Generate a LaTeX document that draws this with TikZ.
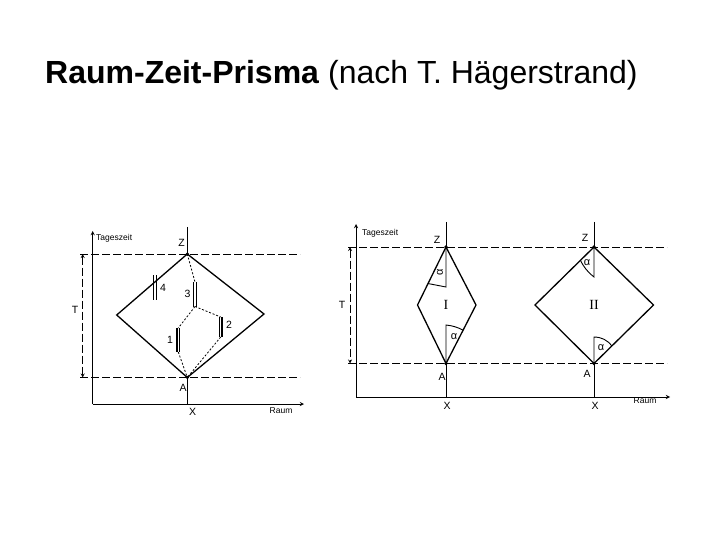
\documentclass[tikz,border=0pt]{standalone}
\usepackage{fontspec}
\setmainfont{Liberation Sans}
\newfontfamily\romfont{Liberation Serif}
\usetikzlibrary{arrows,calc}

\begin{document}
\begin{tikzpicture}[x=1pt,y=-1pt,>=stealth,
  axis/.style={line width=0.9pt},
  prism/.style={line width=1.3pt},
  guide/.style={line width=0.8pt,dash pattern=on 8pt off 3pt},
  track/.style={line width=0.8pt,dash pattern=on 2pt off 1.8pt},
  bar/.style={line width=1.3pt},
  lbl/.style={font=\fontsize{10.5}{10.5}\selectfont,inner sep=1pt},
  angle/.style={font=\fontsize{11}{11}\selectfont,inner sep=0.5pt},
  small/.style={font=\fontsize{8.5}{8.5}\selectfont,inner sep=1pt}]
\useasboundingbox (0,0) rectangle (720,540);
\node [anchor=base west,inner sep=0pt,font=\fontsize{32}{32}\selectfont] (title) at (45,84)
  {\textbf{Raum-Zeit-Prisma} (nach T. Hägerstrand)};
%
% left diagram: axes
\coordinate (O1) at (92.7,404);
\draw [axis,->] (O1) -- (92.7,231) coordinate (Y1);
\draw [axis,->] (O1) -- (304,404) coordinate (X1);
\node [small,anchor=west] (tz1) at (95,238) {Tageszeit};
\node [small] (raum1) at (281,411) {Raum};
%
\coordinate (Z1) at (187.3,254);
\coordinate (A1) at (187.3,377.5);
\coordinate (L1) at (116.7,315);
\coordinate (R1) at (264,314);
\draw [guide] (80,254) -- (300,254);
\draw [guide] (80,377.5) -- (300,377.5);
\draw [guide,<->] (82.7,254) -- (82.7,377.5);
\node [lbl] (T1) at (75,310) {T};
\draw [axis] (187.3,227) -- (Z1);
\draw [axis] (A1) -- (187.3,404);
\draw [prism] (Z1) -- (R1) -- (A1) -- (L1) -- cycle;
\fill (Z1) circle [radius=1.8];
\fill (A1) circle [radius=1.8];
\node [lbl] (z1) at (181.5,243) {Z};
\node [lbl] (a1) at (183,387.5) {A};
\node [lbl] (x1) at (192.7,412) {X};
%
% stations
\foreach \n/\x/\ya/\yb in {4/155/275/300, 3/195/282/306.5, 1/178.3/328/352, 2/220.7/317/337}{
  \coordinate (s\n-t) at (\x,\ya);
  \coordinate (s\n-b) at (\x,\yb);
  \draw [bar] (\x-1.4,\ya) -- (\x-1.4,\yb) (\x+1.4,\ya) -- (\x+1.4,\yb);
}
\node [lbl] (n4) at (163,288) {4};
\node [lbl] (n3) at (187.5,294) {3};
\node [lbl] (n1) at (170,340) {1};
\node [lbl] (n2) at (229,325) {2};
\draw [track] (Z1) -- (s3-t);
\draw [track] (s3-b) -- (s1-t);
\draw [track] (s3-b) -- (s2-t);
\draw [track] (s1-b) -- (A1);
\draw [track] (s2-b) -- (A1);
%
% right diagram: axes
\coordinate (O2) at (356,397);
\draw [axis,->] (O2) -- (356,224) coordinate (Y2);
\draw [axis,->] (O2) -- (670,397) coordinate (X2);
\node [small,anchor=west] (tz2) at (361,233) {Tageszeit};
\node [small] (raum2) at (645,401) {Raum};
\draw [guide] (348,247) -- (667,247);
\draw [guide] (348,363.5) -- (667,363.5);
\draw [guide,<->] (350,247) -- (350,363.5);
\node [lbl] (T2) at (342,305) {T};
%
% prism I
\coordinate (Z2) at (446,247);
\coordinate (A2) at (446,363.5);
\coordinate (L2) at (417.5,305);
\coordinate (R2) at (476,305);
\draw [axis] (446,222) -- (Z2);
\draw [axis] (A2) -- (446,397);
\draw [prism] (Z2) -- (R2) -- (A2) -- (L2) -- cycle;
\fill (Z2) circle [radius=1.8];
\fill (A2) circle [radius=1.8];
\draw [axis] (Z2) -- (446,287) -- ($(Z2)!0.63!(L2)$);
\draw [axis] (A2) -- (446,325) to [bend left=10] ($(A2)!0.57!(R2)$);
\node [angle,rotate=90] (al1) at (440,272) {α};
\node [angle] (al2) at (454,337) {α};
\node [font=\romfont\fontsize{14}{14}\selectfont] (I) at (446,305) {I};
\node [lbl] (z2) at (437,240) {Z};
\node [lbl] (a2) at (442,377) {A};
\node [lbl] (x2) at (447,406) {X};
%
% prism II
\coordinate (Z3) at (594,247);
\coordinate (A3) at (594,363.5);
\coordinate (L3) at (535,305);
\coordinate (R3) at (653.5,305);
\draw [axis] (594,222) -- (Z3);
\draw [axis] (A3) -- (594,337) to [bend left=25] ($(A3)!0.3!(R3)$);
\draw [axis] (A3) -- (594,397);
\draw [prism] (Z3) -- (R3) -- (A3) -- (L3) -- cycle;
\fill (Z3) circle [radius=1.8];
\fill (A3) circle [radius=1.8];
\draw [axis] (Z3) -- (594,277) to [bend left=12] ($(Z3)!0.23!(L3)$);
\node [angle] (al3) at (587,263) {α};
\node [angle] (al4) at (601,348) {α};
\node [font=\romfont\fontsize{14}{14}\selectfont] (II) at (594,305) {II};
\node [lbl] (z3) at (585,238) {Z};
\node [lbl] (a3) at (587,374) {A};
\node [lbl] (x3) at (595,406) {X};
%
\end{tikzpicture}
\end{document}
